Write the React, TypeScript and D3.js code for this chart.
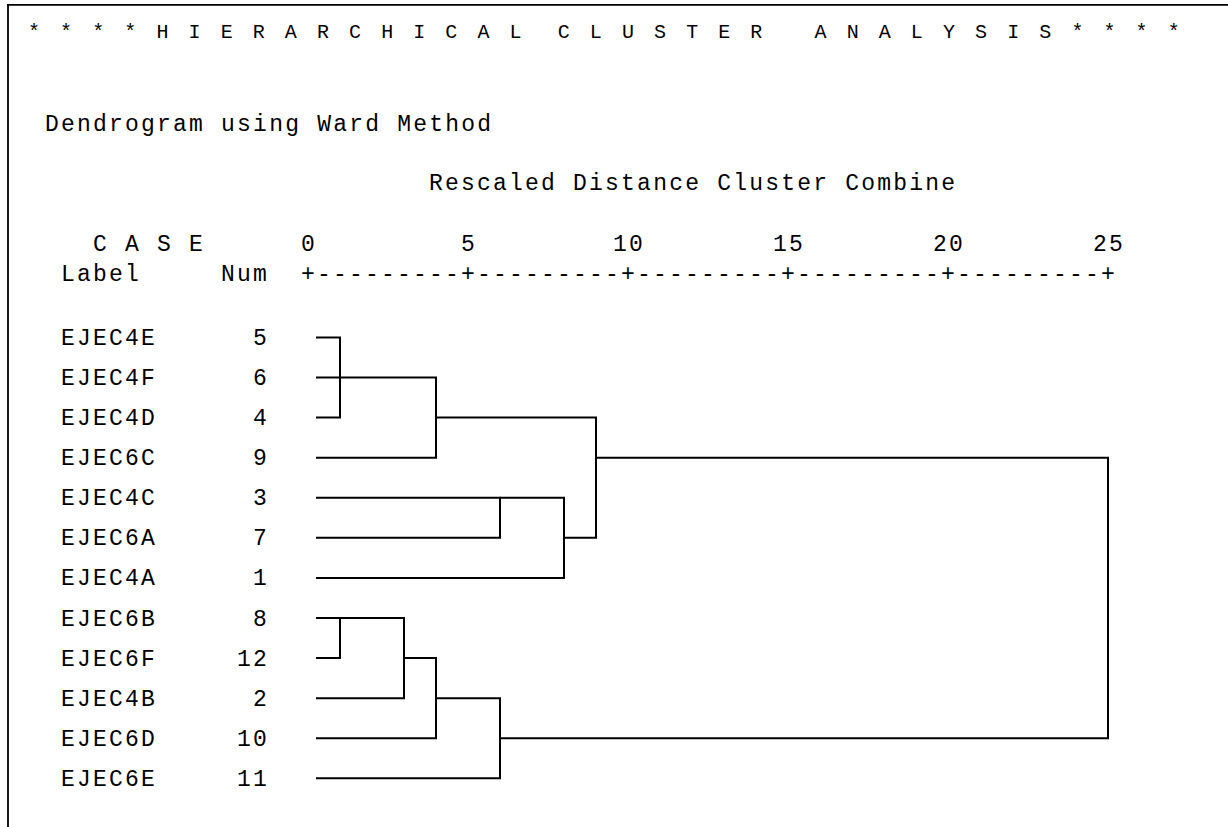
import React from "react";
import * as d3 from "d3";

// ---- data ----
const TITLE = "* * * * H I E R A R C H I C A L  C L U S T E R   A N A L Y S I S * * * *";
const SUBTITLE = "Dendrogram using Ward Method";
const AXIS_TITLE = "Rescaled Distance Cluster Combine";
const CASE_LABELS = ["EJEC4E", "EJEC4F", "EJEC4D", "EJEC6C", "EJEC4C", "EJEC6A", "EJEC4A", "EJEC6B", "EJEC6F", "EJEC4B", "EJEC6D", "EJEC6E"];
const CASE_NUMS = [5, 6, 4, 9, 3, 7, 1, 8, 12, 2, 10, 11];
// agglomeration schedule: negative = case number, positive = earlier stage (1-based)
const MERGE_LEFT = [-5, 1, -8, 3, 2, 4, -3, 6, 7, 5, 10];
const MERGE_RIGHT = [-6, -4, -12, -2, -9, -10, -7, -11, -1, 9, 8];
const MERGE_DIST = [1, 1, 1, 3, 4, 4, 6, 6, 8, 9, 25];
const TICKS = [0, 5, 10, 15, 20, 25];

// ---- layout ----
const W = 1228;
const H = 827;
const CW = 16;
const COL0 = 300; // left edge of the cell holding the "0" tick
const FONT = "'Liberation Mono', 'Courier New', monospace";
const FS = 23;

function Mono({ col, y, text, fs = FS, cw = CW, left }: { col?: number; y: number; text: string; fs?: number; cw?: number; left?: number }) {
  const adv = 0.6 * fs;
  const ls = cw - adv;
  const cellLeft = left !== undefined ? left : COL0 + (col || 0) * cw;
  return (
    <text x={cellLeft + ls / 2} y={y} fontSize={fs} letterSpacing={ls} fontFamily={FONT} fill="#000" style={{ whiteSpace: "pre" }}>
      {text}
    </text>
  );
}

export default function App() {
  const xs = d3.scaleLinear().domain([0, 25]).range([COL0 + CW / 2, COL0 + CW / 2 + 50 * CW]);
  const ys = d3.scaleLinear().domain([0, CASE_NUMS.length - 1]).range([337.4, 778.3]);
  const leafStart = xs(0.25);

  const rowOf = (num: number) => CASE_NUMS.indexOf(num);
  const nodeRow: number[] = [];
  const paths: string[] = [];
  MERGE_DIST.forEach((dist, i) => {
    const x = xs(dist);
    const info = (ref: number) => {
      if (ref < 0) return { row: rowOf(-ref), x0: leafStart };
      return { row: nodeRow[ref - 1], x0: xs(MERGE_DIST[ref - 1]) };
    };
    const a = info(MERGE_LEFT[i]);
    const b = info(MERGE_RIGHT[i]);
    const p = d3.path();
    p.moveTo(a.x0, ys(a.row));
    p.lineTo(x, ys(a.row));
    p.lineTo(x, ys(b.row));
    p.lineTo(b.x0, ys(b.row));
    paths.push(p.toString());
    nodeRow[i] = Math.floor((a.row + b.row) / 2);
  });

  const fsTick = FS;
  const lsTick = CW - 0.6 * fsTick;
  const dashes: number[] = [];
  for (let t = 0; t < TICKS.length - 1; t++) {
    for (let k = 1; k <= 9; k++) dashes.push(TICKS[t] + k * 0.5);
  }
  const axisY = 280.7;

  return (
    <svg width={W} height={H} style={{ position: "absolute", left: 0, top: 0, background: "#fff" }}>
      <rect x={0} y={0} width={W} height={H} fill="#fff" />
      {/* frame */}
      <line x1={7.2} y1={4.8} x2={W} y2={4.8} stroke="#000" strokeWidth={1.8} />
      <line x1={8} y1={4} x2={8} y2={H} stroke="#000" strokeWidth={1.8} />

      <Mono left={26} cw={16.05} y={37.5} fs={20} text={TITLE} />
      <Mono col={-16} y={131} text={SUBTITLE} />
      <Mono col={8} y={190} text={AXIS_TITLE} />
      <Mono col={-13} y={250.7} text={"C A S E"} />
      {TICKS.map((t) => (
        <text key={"t" + t} x={xs(t) + lsTick / 2} y={250.7} fontSize={fsTick} letterSpacing={lsTick} textAnchor="middle" fontFamily={FONT} fill="#000">
          {String(t)}
        </text>
      ))}
      <Mono col={-15} y={axisY} text={"Label"} />
      <Mono col={-5} y={axisY} text={"Num"} />
      {TICKS.map((t) => (
        <text key={"p" + t} x={xs(t)} y={axisY} fontSize={FS} textAnchor="middle" fontFamily={FONT} fill="#000">
          +
        </text>
      ))}
      {dashes.map((d, i) => (
        <text key={"d" + i} x={xs(d)} y={axisY} fontSize={FS} textAnchor="middle" fontFamily={FONT} fill="#000">
          -
        </text>
      ))}

      {CASE_LABELS.map((lab, i) => (
        <g key={lab}>
          <Mono col={-15} y={ys(i) + 7.6} text={lab} />
          <Mono col={-3 - (String(CASE_NUMS[i]).length - 1)} y={ys(i) + 7.6} text={String(CASE_NUMS[i])} />
        </g>
      ))}

      {paths.map((d, i) => (
        <path key={"m" + i} d={d} fill="none" stroke="#000" strokeWidth={2} strokeLinejoin="miter" />
      ))}
    </svg>
  );
}
